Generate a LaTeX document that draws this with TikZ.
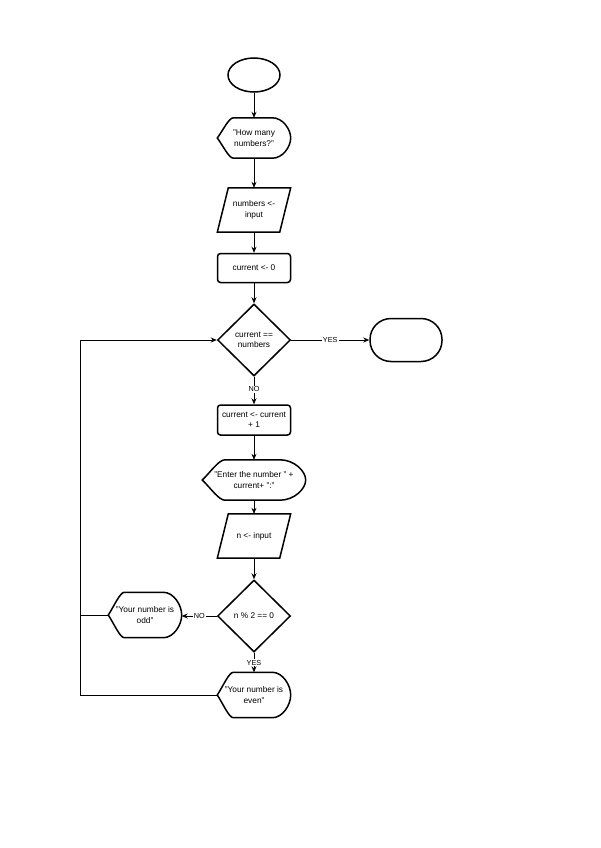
\documentclass[tikz,border=0pt]{standalone}
\usepackage{fontspec}
\setmainfont{Liberation Sans}
\usetikzlibrary{arrows.meta,shapes.geometric,calc}
\tikzset{
  shp/.style={draw=black, line width=1.5pt, fill=white},
  txt/.style={inner sep=0pt, align=center, font=\fontsize{8.3}{10.5}\selectfont},
  conn/.style={draw=black, line width=0.7pt, -{Stealth[length=6pt,width=5pt]}},
  plain/.style={draw=black, line width=0.7pt},
  lbl/.style={fill=white, inner sep=1pt, font=\fontsize{7.3}{8}\selectfont},
}
\pgfdeclarelayer{background}
\pgfdeclarelayer{paper}
\pgfsetlayers{paper,background,main}
% display shape: name, cx, cy, w, h, text
\newcommand\dispshape[6]{%
  \node[txt, minimum width=#4pt, minimum height=#5pt] (#1) at (#2,#3) {#6};
  \begin{pgfonlayer}{background}
  \draw[shp] (#1.west)
    .. controls ([xshift=#4*0.08pt, yshift=#5*0.2pt]#1.west) and ([xshift=#4*0.16pt]#1.north west) .. ([xshift=#4*0.22pt]#1.north west)
    -- ([xshift=-#4*0.25pt]#1.north east)
    .. controls ([xshift=-#4*0.1125pt]#1.north east) and ([yshift=#5*0.225pt]#1.east) .. (#1.east)
    .. controls ([yshift=-#5*0.225pt]#1.east) and ([xshift=-#4*0.1125pt]#1.south east) .. ([xshift=-#4*0.25pt]#1.south east)
    -- ([xshift=#4*0.22pt]#1.south west)
    .. controls ([xshift=#4*0.16pt]#1.south west) and ([xshift=#4*0.08pt, yshift=-#5*0.2pt]#1.west) .. (#1.west) -- cycle;
  \end{pgfonlayer}
}
% parallelogram: name, cx, cy, w, h, text
\newcommand\paragshape[6]{%
  \node[txt, minimum width=#4pt, minimum height=#5pt] (#1) at (#2,#3) {#6};
  \begin{pgfonlayer}{background}
  \draw[shp] ([xshift=11pt]#1.north west) -- (#1.north east) -- ([xshift=-11pt]#1.south east) -- (#1.south west) -- cycle;
  \end{pgfonlayer}
}
\begin{document}
\begin{tikzpicture}[x=1pt,y=-1pt]
\begin{pgfonlayer}{paper}
\fill[white] (0,0) rectangle (600,848);
\end{pgfonlayer}
\useasboundingbox (0,0) rectangle (600,848);

\node[shp, ellipse, minimum width=52pt, minimum height=34pt, inner sep=0pt] (start) at (254,75) {};
\dispshape{q1}{254}{138}{73}{40}{"How many\\numbers?"}
\paragshape{in1}{254}{210}{73}{44}{numbers <-\\input}
\node[shp, txt, rounded corners=3pt, minimum width=73pt, minimum height=29pt] (init) at (254,268) {current <- 0};
\node[shp, txt, diamond, minimum width=73pt, minimum height=72pt] (d1) at (254,340) {current ==\\numbers};
\node[shp, rounded corners=21pt, minimum width=72pt, minimum height=43pt] (end) at (406,340) {};
\node[shp, txt, rounded corners=3pt, minimum width=73pt, minimum height=30pt] (inc) at (254,420) {current <- current\\+ 1};
\dispshape{q2}{254}{480}{103}{40}{"Enter the number " +\\current+ ":"}
\paragshape{in2}{254}{536}{73}{44}{n <- input}
\node[shp, txt, diamond, minimum width=73pt, minimum height=72pt] (d2) at (254,616) {n \% 2 == 0};
\dispshape{odd}{145}{615}{73}{45}{"Your number is\\odd"}
\dispshape{even}{254}{695}{73}{45}{"Your number is\\even"}

\coordinate (lo) at (80,615);
\coordinate (le) at (80,695);
\coordinate (lt) at (80,340);

\draw[conn] (start) -- (q1);
\draw[conn] (q1) -- (in1);
\draw[conn] (in1) -- (init);
\draw[conn] (init) -- (d1);
\draw[conn] (d1) -- node[lbl]{YES} (end);
\draw[conn] (d1) -- node[lbl, pos=0.45]{NO} (inc);
\draw[conn] (inc) -- (q2);
\draw[conn] (q2) -- (in2);
\draw[conn] (in2) -- (d2);
\draw[conn] (d2.west) -- node[lbl]{NO} (odd.east |- d2.west);
\draw[conn] (d2) -- node[lbl, pos=0.5]{YES} (even);
\draw[plain] (odd.west) -- (lo);
\draw[conn] (even.west) -- (le) -- (lt) -- (d1.west);
\end{tikzpicture}
\end{document}
